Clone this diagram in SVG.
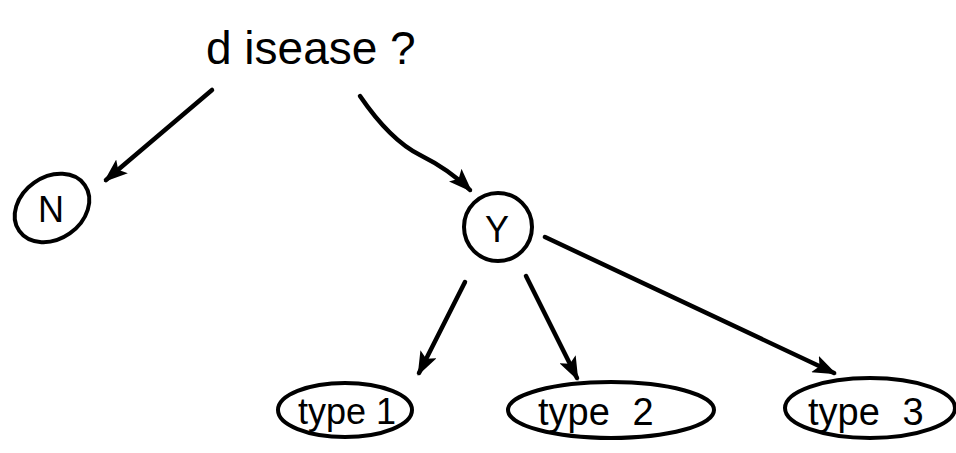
<svg xmlns="http://www.w3.org/2000/svg" width="956" height="453" viewBox="0 0 956 453">
<style>
.ln{fill:none;stroke:#000;stroke-width:4.5;stroke-linecap:round}
.nd{fill:none;stroke:#000;stroke-width:4}
.t{font-family:"Liberation Sans","DejaVu Sans",sans-serif;fill:#000}
</style>
<defs>
<marker id="ah" viewBox="0 0 24 18" refX="21" refY="9" markerWidth="24" markerHeight="18" orient="auto" markerUnits="userSpaceOnUse">
<path d="M0,0 L24,9 L0,18 L5,9 Z" fill="#000"/>
</marker>
</defs>
<rect width="956" height="453" fill="#fff"/>
<g id="root"><text class="t" x="206" y="64" font-size="46">d isease ?</text></g>
<g id="N"><ellipse class="nd" cx="52" cy="208" rx="40" ry="31" transform="rotate(-35 52 208)"/><text class="t" x="38" y="222" font-size="36">N</text></g>
<g id="Y"><ellipse class="nd" cx="498" cy="227" rx="34" ry="34"/><text class="t" x="485" y="242" font-size="36">Y</text></g>
<g id="type1"><ellipse class="nd" cx="345" cy="410" rx="67" ry="27"/><text class="t" x="298" y="424" font-size="36">type 1</text></g>
<g id="type2"><ellipse class="nd" cx="611" cy="410" rx="103" ry="28"/><text class="t" x="538" y="425" font-size="38" word-spacing="12">type 2</text></g>
<g id="type3"><ellipse class="nd" cx="870" cy="408" rx="85" ry="30"/><text class="t" x="808" y="425" font-size="38" word-spacing="12">type 3</text></g>
<g id="connectors">
<path class="ln" d="M212,90 L106,180" marker-end="url(#ah)"/>
<path class="ln" d="M360,96 Q390,140 420,155 Q450,170 470,190" marker-end="url(#ah)"/>
<path class="ln" d="M465,282 L419,373" marker-end="url(#ah)"/>
<path class="ln" d="M526,276 L577,378" marker-end="url(#ah)"/>
<path class="ln" d="M545,237 L834,373" marker-end="url(#ah)"/>
</g>
</svg>
